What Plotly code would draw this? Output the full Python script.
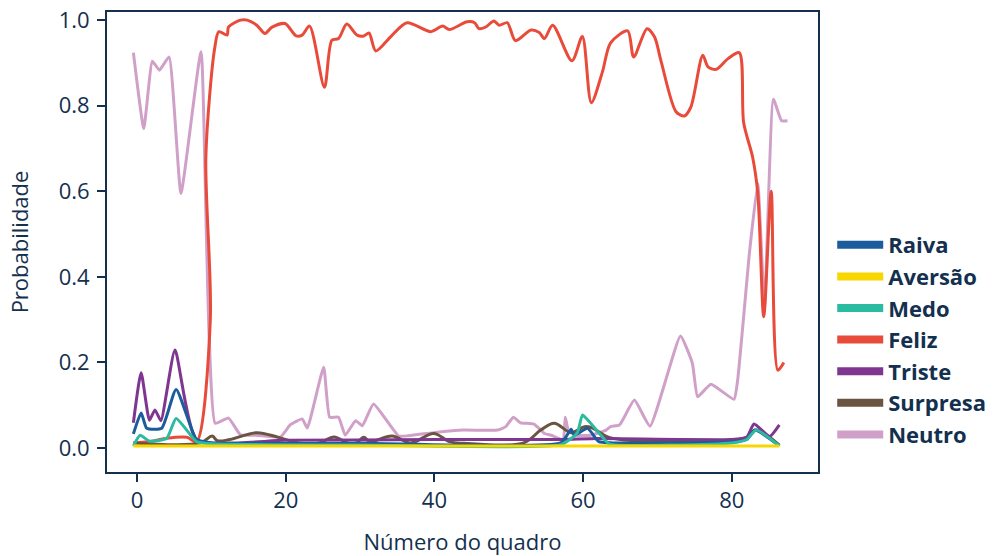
import plotly.graph_objects as go

# ---- data ----
names = ["Raiva", "Aversão", "Medo", "Feliz", "Triste", "Surpresa", "Neutro"]
colors = ["#1b5c9c", "#f8d600", "#2bbba0", "#e94b3b", "#7e3690", "#6a5541", "#d0a0c9"]

raiva_x = [-0.5, 0.54, 1.3, 3.3, 5.25, 8.0, 10, 30, 57, 58.4, 58.8, 60.6, 62.1, 64, 80, 82, 83.1, 86.4]
raiva_y = [0.033, 0.082, 0.046, 0.046, 0.137, 0.02, 0.012, 0.011, 0.012, 0.044, 0.03, 0.046, 0.015, 0.012, 0.014, 0.02, 0.042, 0.005]

aversao_x = [-0.5, 20, 40, 60, 80, 86.4]
aversao_y = [0.005, 0.005, 0.005, 0.005, 0.005, 0.005]

medo_x = [-0.5, 0.4, 1.66, 4.0, 5.25, 8.0, 10, 30, 57, 59.2, 59.9, 60.6, 62.4, 63.5, 80, 82, 83.3, 86.4]
medo_y = [0.005, 0.03, 0.016, 0.023, 0.069, 0.015, 0.01, 0.007, 0.008, 0.035, 0.077, 0.066, 0.03, 0.01, 0.012, 0.02, 0.042, 0.005]

feliz_x = [-0.5, 2, 4, 6.7, 8.0, 9.85, 9.25, 10.4, 11.0, 12.1, 12.3, 13.9, 14.8, 16.1, 17.2, 18.1, 19.9,
           21.4, 22.2, 23.2, 25.2, 26.2, 27.1, 28.2, 29.6, 30.5, 31.2, 32.1, 34.1, 36.3, 39.5, 41.1, 42.0,
           44.4, 45.4, 46.0, 46.9, 48.0, 48.7, 49.8, 50.9, 53.0, 54.1, 54.8, 55.9, 58.5, 59.9, 61.1, 62.6,
           63.7, 66.0, 66.8, 68.6, 69.6, 70.5, 72.5, 73.6, 74.5, 76.1, 76.8, 77.9, 79.5, 81.0, 81.6, 82.8,
           83.5, 84.3, 85.3, 86.2, 87.0]
feliz_y = [0.012, 0.016, 0.023, 0.025, 0.015, 0.3, 0.68, 0.93, 0.973, 0.965, 0.984, 1.0, 1.0, 0.988, 0.969, 0.983, 0.992,
           0.963, 0.965, 0.986, 0.843, 0.953, 0.957, 0.991, 0.965, 0.963, 0.97, 0.928, 0.961, 0.994, 0.973, 0.986, 0.978,
           0.996, 0.994, 0.98, 0.984, 0.998, 0.988, 0.994, 0.952, 0.977, 0.971, 0.957, 0.988, 0.905, 0.962, 0.807, 0.879,
           0.947, 0.975, 0.914, 0.98, 0.961, 0.903, 0.786, 0.776, 0.797, 0.918, 0.891, 0.885, 0.91, 0.924, 0.76, 0.68,
           0.595, 0.307, 0.6, 0.182, 0.2]

triste_x = [-0.5, 0.54, 1.66, 2.4, 3.2, 5.1, 8.0, 20, 40, 57, 62, 80, 82, 83.0, 85.1, 86.4]
triste_y = [0.059, 0.176, 0.065, 0.089, 0.064, 0.229, 0.019, 0.018, 0.02, 0.02, 0.022, 0.02, 0.025, 0.056, 0.027, 0.054]

surpresa_x = [-0.5, 8.5, 10.1, 10.8, 12.5, 16.1, 19, 22, 24.5, 26.5, 28.3, 29.4, 30.5, 31.3, 34.3, 36.8, 39.9,
              42.0, 44, 52, 54.3, 56.1, 58.4, 60.2, 61.1, 63.3, 65.5, 80, 82, 83.2, 86.4]
surpresa_y = [0.012, 0.012, 0.028, 0.017, 0.02, 0.036, 0.025, 0.011, 0.012, 0.026, 0.012, 0.011, 0.025, 0.015, 0.028, 0.012, 0.034,
              0.015, 0.011, 0.012, 0.042, 0.058, 0.036, 0.05, 0.048, 0.026, 0.019, 0.018, 0.025, 0.042, 0.007]

neutro_x = [-0.5, 0.9, 2.05, 3.0, 4.3, 5.9, 8.6, 10.5, 12.3, 13.9, 16, 19.3, 20.6, 22.2, 22.9, 25.1, 25.9, 27.1,
            28.0, 29.4, 30.3, 31.8, 35.2, 37, 39.9, 43.9, 48.5, 49.6, 50.6, 51.6, 53.4, 54.8, 55.7, 57.3, 57.6,
            58.0, 59, 61, 63.1, 63.7, 64.9, 66.9, 69.0, 73.1, 74.7, 75.4, 77.2, 80.3, 80.8, 82.4, 83.5, 84.4,
            85.6, 86.7, 87.5]
neutro_y = [0.924, 0.747, 0.904, 0.883, 0.914, 0.595, 0.926, 0.058, 0.07, 0.031, 0.03, 0.026, 0.054, 0.068, 0.047, 0.189, 0.072, 0.072,
            0.03, 0.064, 0.052, 0.103, 0.028, 0.03, 0.036, 0.042, 0.042, 0.05, 0.072, 0.059, 0.056, 0.034, 0.03, 0.02, 0.072,
            0.042, 0.03, 0.03, 0.042, 0.05, 0.054, 0.112, 0.051, 0.262, 0.198, 0.12, 0.149, 0.114, 0.16, 0.46, 0.618, 0.33,
            0.815, 0.765, 0.765]

series_x = [raiva_x, aversao_x, medo_x, feliz_x, triste_x, surpresa_x, neutro_x]
series_y = [raiva_y, aversao_y, medo_y, feliz_y, triste_y, surpresa_y, neutro_y]
smooth = [0.5, 0.5, 0.5, 0.8, 0.5, 1.0, 0.4]

x_ticks = [0, 20, 40, 60, 80]
y_ticks = [0.0, 0.2, 0.4, 0.6, 0.8, 1.0]

navy = "#13304f"
font_family = "Open Sans"

fig = go.Figure()
# draw order: pink at back, red, others on top
order = [6, 3, 5, 4, 0, 2, 1]
for i in order:
    fig.add_trace(go.Scatter(
        x=series_x[i], y=series_y[i], mode="lines", name=names[i],
        line=dict(color=colors[i], width=3, shape="spline", smoothing=smooth[i]),
        showlegend=False, hoverinfo="skip"))
# legend entries
for i in range(len(names)):
    fig.add_trace(go.Scatter(
        x=[None], y=[None], mode="lines", name=names[i],
        line=dict(color=colors[i], width=8), showlegend=True))

axis_common = dict(
    showline=True, linecolor=navy, linewidth=2, mirror=True,
    ticks="outside", ticklen=8, tickwidth=2, tickcolor=navy,
    showgrid=False, zeroline=False, automargin=False,
    ticklabeloverflow="allow",
    tickfont=dict(family=font_family, size=22, color=navy),
)

fig.update_layout(
    template="none",
    width=1007, height=556,
    margin=dict(l=107, r=189, t=12, b=84, autoexpand=False),
    paper_bgcolor="white", plot_bgcolor="white",
    font=dict(family=font_family, color=navy),
    xaxis=dict(range=[-4.05, 91.6], tickvals=x_ticks,
               title=dict(text="Número do quadro", font=dict(family=font_family, size=22, color=navy), standoff=22),
               **axis_common),
    yaxis=dict(range=[-0.056, 1.019], tickvals=y_ticks, tickformat=".1f", ticklabelstandoff=3,
               title=dict(text="Probabilidade", font=dict(family=font_family, size=22, color=navy), standoff=24),
               **axis_common),
    legend=dict(x=1.02, xanchor="left", y=0.287, yanchor="middle",
                font=dict(family=font_family, size=22, color=navy, weight=700),
                itemwidth=46, tracegroupgap=0, bgcolor="rgba(0,0,0,0)"),
)

fig.write_html("out.html", config={"displayModeBar": False},
               post_script="document.body.style.margin='0';")
